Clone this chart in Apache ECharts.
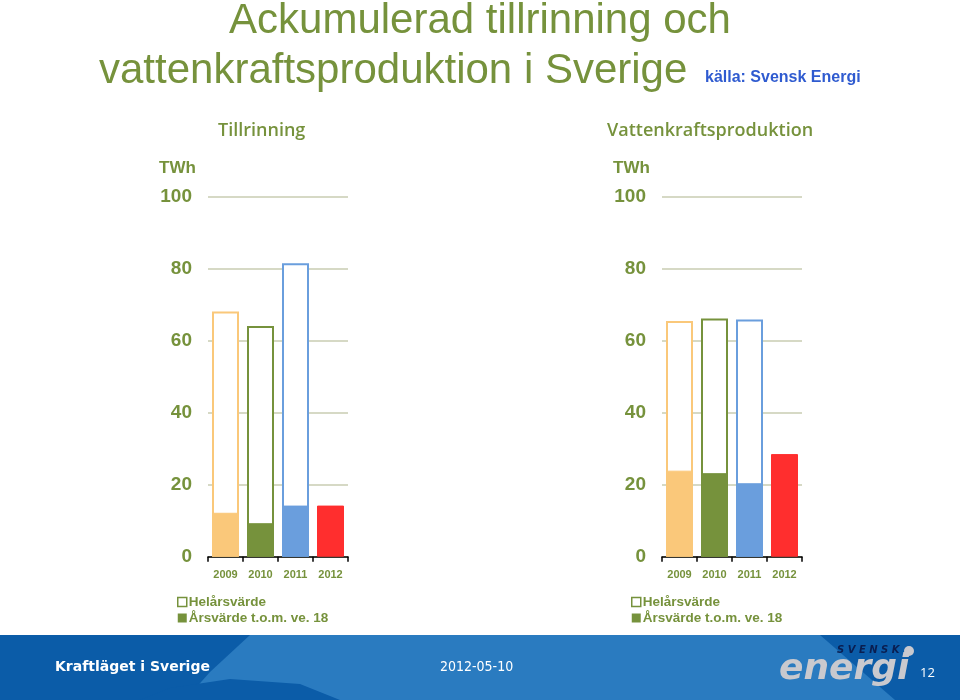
<!DOCTYPE html>
<html><head><meta charset="utf-8">
<script src="https://cdn.jsdelivr.net/npm/echarts@6/dist/echarts.min.js"></script>
<style>html,body{margin:0;padding:0;background:#fff}#c{width:960px;height:700px}</style>
</head><body><div id="c"></div>
<script>
const categories = ['2009', '2010', '2011', '2012'];
const inflowFull = [68.1, 64.1, 81.5, null];
const inflowYtd = [12.2, 9.3, 14.2, 14.2];
const prodFull = [65.5, 66.2, 65.9, null];
const prodYtd = [23.9, 23.2, 20.4, 28.5];
const yearColors = ['#FAC87A', '#76923C', '#6A9EDD', '#FF2E2E'];
const yTicks = [0, 20, 40, 60, 80, 100];
const legendNames = ['Helårsvärde', 'Årsvärde t.o.m. ve. 18'];

const olive = '#76923C';
const chart = echarts.init(document.getElementById('c'));

function outlineData(arr) {
  return arr.map((v, i) => ({ value: v, itemStyle: { color: '#fff', borderColor: yearColors[i], borderWidth: 2 } }));
}
function fillData(arr) {
  return arr.map((v, i) => ({ value: v, itemStyle: { color: yearColors[i], borderColor: yearColors[i], borderWidth: 1 } }));
}
function xAxis(g) {
  return {
    type: 'category', gridIndex: g, data: categories, boundaryGap: true,
    axisLine: { lineStyle: { color: '#000', width: 1.5 } },
    axisTick: { show: true, length: 5, lineStyle: { color: '#000', width: 1.5 } },
    axisLabel: { color: olive, fontFamily: 'Liberation Sans, Arial', fontWeight: 'bold', fontSize: 11, margin: 13 }
  };
}
function yAxis(g) {
  return {
    type: 'value', gridIndex: g, min: yTicks[0], max: yTicks[yTicks.length - 1], interval: 20,
    axisLine: { show: false }, axisTick: { show: false },
    axisLabel: { color: olive, fontFamily: 'Liberation Sans, Arial', fontWeight: 'bold', fontSize: 19, margin: 16 },
    splitLine: { lineStyle: { color: '#C9CDB2', width: 1.5 } }
  };
}
function legend(left) {
  return {
    left: left, top: 590, orient: 'vertical', itemWidth: 9, itemHeight: 9, itemGap: 2,
    selectedMode: false,
    textStyle: { color: olive, fontFamily: 'Liberation Sans, Arial', fontWeight: 'bold', fontSize: 13.5, padding: [0, 0, 0, -3] },
    data: [
      { name: legendNames[0], icon: 'rect', itemStyle: { color: '#fff', borderColor: olive, borderWidth: 1.5 } },
      { name: legendNames[1], icon: 'rect', itemStyle: { color: olive, borderWidth: 0 } }
    ]
  };
}

const option = {
  animation: false,
  grid: [
    { left: 208, top: 196.7, width: 140, height: 360 },
    { left: 662, top: 196.7, width: 140, height: 360 }
  ],
  xAxis: [xAxis(0), xAxis(1)],
  yAxis: [yAxis(0), yAxis(1)],
  legend: [legend(172), legend(626)],
  series: [
    { name: legendNames[0], type: 'bar', xAxisIndex: 0, yAxisIndex: 0, barWidth: 27, barGap: '-100%', data: outlineData(inflowFull), itemStyle: { color: '#fff', borderColor: olive } },
    { name: legendNames[1], type: 'bar', xAxisIndex: 0, yAxisIndex: 0, barWidth: 27, barGap: '-100%', data: fillData(inflowYtd), itemStyle: { color: olive } },
    { name: legendNames[0], type: 'bar', xAxisIndex: 1, yAxisIndex: 1, barWidth: 27, barGap: '-100%', data: outlineData(prodFull), itemStyle: { color: '#fff', borderColor: olive } },
    { name: legendNames[1], type: 'bar', xAxisIndex: 1, yAxisIndex: 1, barWidth: 27, barGap: '-100%', data: fillData(prodYtd), itemStyle: { color: olive } }
  ],
  graphic: [
    { type: 'text', left: 'center', top: 0, style: { text: 'Ackumulerad tillrinning och', fill: olive, font: '42px "Liberation Sans", Arial' } },
    { type: 'text', left: 99, top: 50, style: { text: 'vattenkraftsproduktion i Sverige', fill: olive, font: '42px "Liberation Sans", Arial' } },
    { type: 'text', left: 705, top: 70, style: { text: 'källa: Svensk Energi', fill: '#2F5BD0', font: 'bold 16px "Liberation Sans", Arial' } },
    { type: 'text', left: 218, top: 122, style: { text: 'Tillrinning', fill: olive, font: '600 18px "Open Sans", sans-serif' } },
    { type: 'text', left: 607, top: 122, style: { text: 'Vattenkraftsproduktion', fill: olive, font: '600 18px "Open Sans", sans-serif' } },
    { type: 'text', left: 159, top: 160, style: { text: 'TWh', fill: olive, font: 'bold 17px "Liberation Sans", Arial' } },
    { type: 'text', left: 613, top: 160, style: { text: 'TWh', fill: olive, font: 'bold 17px "Liberation Sans", Arial' } },
    // footer band
    { type: 'rect', left: 0, top: 635, shape: { width: 960, height: 65 }, style: { fill: '#0B5CA8' }, z: -2 },
    { type: 'polygon', shape: { points: [[185, 700], [210, 672], [250, 635], [870, 635], [910, 700]] }, style: { fill: '#2A7BC0' }, z: -1 },
    { type: 'polygon', shape: { points: [[140, 700], [170, 688], [230, 679], [300, 684], [340, 700]] }, style: { fill: '#0B5CA8' }, z: -1 },
    { type: 'polygon', shape: { points: [[820, 635], [870, 635], [930, 700], [895, 700]] }, style: { fill: '#0B5CA8' }, z: -1 },
    { type: 'text', left: 55, top: 660, style: { text: 'Kraftläget i Sverige', fill: '#fff', font: 'bold 14px "DejaVu Sans", Verdana' } },
    { type: 'text', left: 440, top: 660, style: { text: '2012-05-10', fill: '#fff', font: '14px "DejaVu Sans Condensed", "DejaVu Sans"' } },
    { type: 'text', left: 837, top: 645, style: { text: 'S V E N S K', fill: '#0A1E50', font: 'italic bold 10px "DejaVu Sans", Arial' } },
    { type: 'circle', shape: { cx: 909, cy: 651, r: 5 }, style: { fill: '#C9C9CE' } },
    { type: 'text', left: 779, top: 652, style: { text: 'energi', fill: '#C9C9CE', font: 'italic 900 36px "DejaVu Sans", Arial' } },
    { type: 'text', left: 920, top: 667, style: { text: '12', fill: '#fff', font: '13px "Open Sans", sans-serif' } }
  ]
};
chart.setOption(option);
</script></body></html>
